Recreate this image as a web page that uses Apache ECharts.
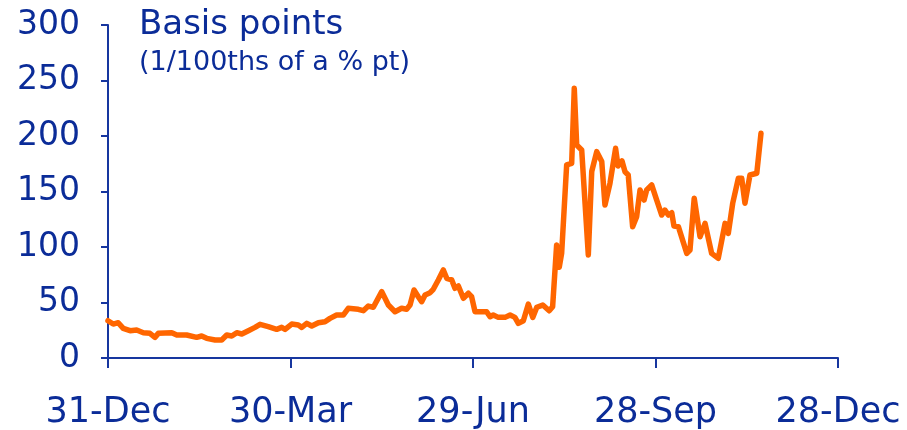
<!DOCTYPE html>
<html>
<head>
<meta charset="utf-8">
<script src="https://cdn.jsdelivr.net/npm/echarts@6/dist/echarts.min.js"></script>
<style>
  html, body { margin: 0; padding: 0; background: #fff; }
  #chart { width: 907px; height: 430px; }
</style>
</head>
<body>
<div id="chart"></div>
<script>
// x = days since 31-Dec, y = spread in basis points
const tickLabels = ["31-Dec", "30-Mar", "29-Jun", "28-Sep", "28-Dec"];
const days = [
  0, 2.6, 5.1, 7.6, 11, 14.3, 17.6, 20.9, 23.4, 25.1, 31.8, 34.3, 39.2, 44.2, 46.7,
  49.2, 53.4, 56.7, 59.2, 61.7, 64.2, 66.7, 70, 73.3, 75.8, 79.9, 84.1, 86.6, 88.3,
  91.6, 94.9, 96.6, 99.1, 101.6, 104.9, 108.2, 110.7, 114, 117.3, 119.8, 124.8, 127.3,
  129.8, 132.3, 136.5, 139.8, 143.1, 146.4, 148.9, 150.6, 152.6, 154.7, 156.4, 158.1,
  160.6, 162.2, 164.7, 167.2, 168.9, 171.4, 173, 174.7, 177.2, 179.7, 181.3, 183,
  188.8, 190.5, 192.1, 194.6, 198, 200.5, 202.9, 204.6, 207.1, 209.6, 211.8, 213.8,
  216.8, 220, 221.7, 223.7, 225, 226.2, 228.7, 231.2, 232.5, 233.7, 236.2, 239.5,
  241.2, 243.7, 246.2, 247.8, 250.3, 253.1, 254.3, 256.3, 257.8, 259.4, 261.6, 263.6,
  265.3, 267.3, 268.6, 271.1, 273.6, 276.1, 277.7, 279.4, 281.1, 282.2, 284.4, 288.6,
  290.2, 292.3, 295.2, 297.7, 301, 304.3, 307.7, 309.3, 311.5, 314.3, 316, 317.6,
  320.1, 323.5, 325.6
];
const bps = [
  33.6, 30.6, 31.8, 26.7, 24.6, 25.2, 22.8, 22.2, 18.6, 22.2, 22.8, 20.7, 20.7, 18.6, 19.8,
  17.7, 16.2, 16.2, 20.7, 19.8, 22.8, 21.6, 24.6, 27.6, 30.3, 28.2, 25.8, 27.6, 25.8,
  30.6, 29.7, 27.6, 31.2, 28.8, 31.8, 32.7, 35.7, 38.7, 38.7, 44.8, 43.9, 42.6,
  46.8, 45.7, 59.8, 47.7, 41.7, 44.8, 43.9, 47.7, 61.3, 55.2, 50.7, 56.8,
  58.8, 61.9, 70.3, 79.3, 71.8, 70.3, 62.8, 64.9, 53.8, 58.3, 55.2, 41.7,
  41.7, 37.2, 38.7, 36.6, 36.6, 38.7, 36.6, 31.2, 33.6, 48.6, 36.6, 45.7,
  47.7, 42.6, 46.2, 101.8, 81.7, 94.3, 173.9, 175.4, 243, 191.9, 187.4, 92.8,
  168, 185.9, 177, 137.8, 157.4, 188.9, 173, 177.5, 167.8, 164.9, 118.3, 127.3,
  151.4, 142.3, 151.4, 155.9, 142.3, 128.8, 133.3, 128.8, 130.9, 118.9, 118.3, 94.3,
  97.3, 143.9, 109.3, 121.3, 94.3, 89.8, 121.3, 112.3, 139.4, 161.9, 161.9, 139.4,
  164.9, 166.4, 202.4
];

const navy = "#0b2c98";
const axisNavy = "#17369f";

const chart = echarts.init(document.getElementById("chart"));
chart.setOption({
  animation: false,
  backgroundColor: "#fff",
  title: {
    text: "Basis points",
    subtext: "(1/100ths of a % pt)",
    left: 134,
    top: 3,
    itemGap: 7,
    textStyle: { fontFamily: "DejaVu Sans", fontSize: 34, fontWeight: "normal", color: navy },
    subtextStyle: { fontFamily: "DejaVu Sans", fontSize: 27, color: navy }
  },
  grid: { left: 108, right: 69, top: 25, bottom: 72, containLabel: false },
  xAxis: {
    type: "value",
    min: 0,
    max: 364,
    interval: 91,
    axisLine: { lineStyle: { color: axisNavy, width: 2 } },
    axisTick: { length: 10, lineStyle: { color: axisNavy, width: 2 } },
    splitLine: { show: false },
    axisLabel: {
      margin: 37,
      fontFamily: "DejaVu Sans",
      fontSize: 35,
      color: navy,
      formatter: function (v) { return tickLabels[Math.round(v / 91)]; }
    }
  },
  yAxis: {
    type: "value",
    min: 0,
    max: 300,
    interval: 50,
    axisLine: { show: true, lineStyle: { color: axisNavy, width: 2 } },
    axisTick: { show: true, length: 7, lineStyle: { color: axisNavy, width: 2 } },
    splitLine: { show: false },
    axisLabel: {
      margin: 28,
      fontFamily: "DejaVu Sans",
      fontSize: 33,
      color: navy
    }
  },
  series: [{
    type: "line",
    data: days.map((d, i) => [d, bps[i]]),
    showSymbol: false,
    lineStyle: { color: "#ff6600", width: 5.5, join: "round", cap: "round" }
  }]
});
</script>
</body>
</html>
